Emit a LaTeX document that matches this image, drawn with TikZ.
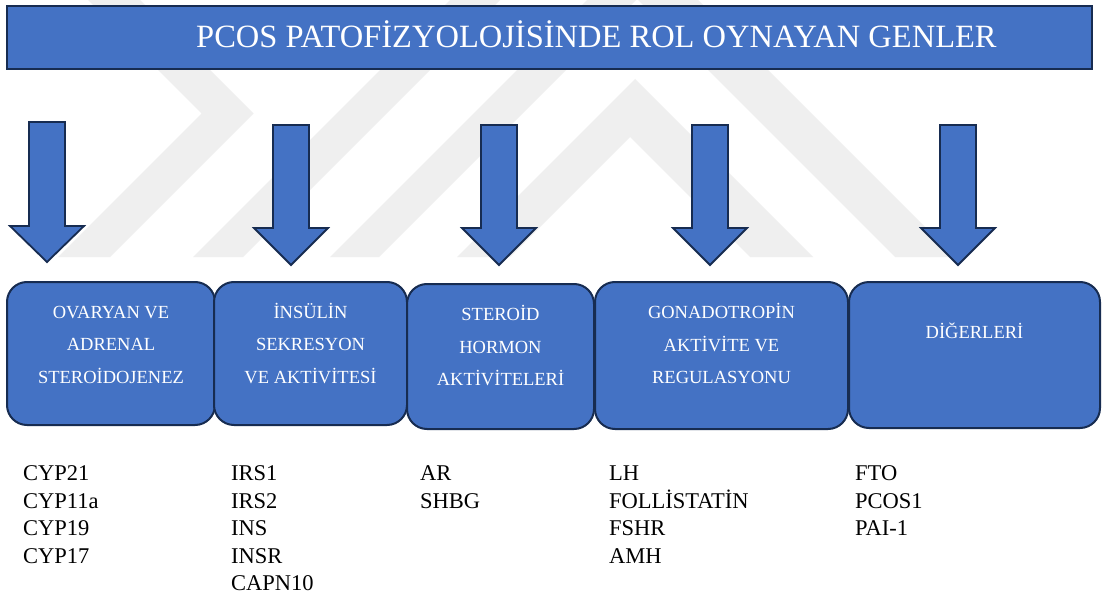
\documentclass[tikz,border=0pt]{standalone}
\usepackage{fontspec}
\setmainfont{Liberation Serif}
\definecolor{boxblue}{HTML}{4472C4}
\definecolor{boxline}{HTML}{172C51}
\definecolor{wm}{HTML}{EFEFEF}
\tikzset{
  wmark/.style={fill=wm, draw=none},
  blockarrow/.style={fill=boxblue, draw=boxline, line width=1.8pt, line join=miter},
  titlebox/.style={fill=boxblue, draw=boxline, line width=2.6pt},
  catbox/.style={fill=boxblue, draw=boxline, line width=2pt, rounded corners=20pt},
  titletext/.style={text=white, font=\fontsize{32.5}{36}\selectfont, anchor=base, inner sep=0pt},
  cattext/.style={text=white, font=\fontsize{18.5}{32.5}\selectfont, align=center, anchor=base, inner sep=0pt},
  genetext/.style={text=black, font=\fontsize{22.5}{27.5}\selectfont, align=left, anchor=base west, inner sep=0pt},
}
\newcommand{\blkarrow}[4]{% centre x, top, shoulder, tip
  \draw[blockarrow] ({#1-18},#2) -- ({#1+18},#2) -- ({#1+18},#3) -- ({#1+37},#3)
     -- (#1,#4) -- ({#1-37},#3) -- ({#1-18},#3) -- cycle;}
\begin{document}
\begin{tikzpicture}[x=1pt,y=-1pt]
\useasboundingbox (0,0) rectangle (1105,599);
\fill[white] (0,0) rectangle (1105,599);
% watermark
\fill[wmark] (88,0) -- (140,0) -- (253.5,113.5) -- (110,257) -- (58,257) -- (201.5,113.5) -- cycle;
\fill[wmark] (193,257) -- (243,257) -- (500,0) -- (450,0) -- cycle;
\fill[wmark] (330,257) -- (379,257) -- (636,0) -- (587,0) -- cycle;
\fill[wmark] (457,257) -- (510,257) -- (630,137) -- (750,257) -- (813,257) -- (635,79) -- cycle;
\fill[wmark] (895,257) -- (955,257) -- (698,0) -- (638,0) -- cycle;
% title
\draw[titlebox] (7,6) rectangle (1092,69);
\node[titletext] (title) at (596.5,48) {PCOS PATOFİZYOLOJİSİNDE ROL OYNAYAN GENLER};
% arrows
\blkarrow{47}{122}{226}{262}
\blkarrow{291}{125}{228}{265}
\blkarrow{499}{125}{228}{265}
\blkarrow{710}{125}{228}{265}
\blkarrow{958}{125}{228}{265}
% category boxes
\draw[catbox] (7,282) rectangle (215,425);
\draw[catbox] (214,282) rectangle (407,425);
\draw[catbox] (407,284) rectangle (594,429);
\draw[catbox] (595,282) rectangle (848,429);
\draw[catbox] (849,282) rectangle (1100,428);
\node[cattext] (c1) at (111,383) {OVARYAN VE\\ADRENAL\\STEROİDOJENEZ};
\node[cattext] (c2) at (310.5,383) {İNSÜLİN\\SEKRESYON\\VE AKTİVİTESİ};
\node[cattext] (c3) at (500.5,385.5) {STEROİD\\HORMON\\AKTİVİTELERİ};
\node[cattext] (c4) at (721.5,383.5) {GONADOTROPİN\\AKTİVİTE VE\\REGULASYONU};
\node[cattext] (c5) at (974.5,338.5) {DİĞERLERİ};
% gene lists
\node[genetext] (g1) at (23,563) {CYP21\\CYP11a\\CYP19\\CYP17};
\node[genetext] (g2) at (231,590.5) {IRS1\\IRS2\\INS\\INSR\\CAPN10};
\node[genetext] (g3) at (420,508) {AR\\SHBG};
\node[genetext] (g4) at (609,563) {LH\\FOLLİSTATİN\\FSHR\\AMH};
\node[genetext] (g5) at (855,535.5) {FTO\\PCOS1\\PAI-1};
\end{tikzpicture}
\end{document}
